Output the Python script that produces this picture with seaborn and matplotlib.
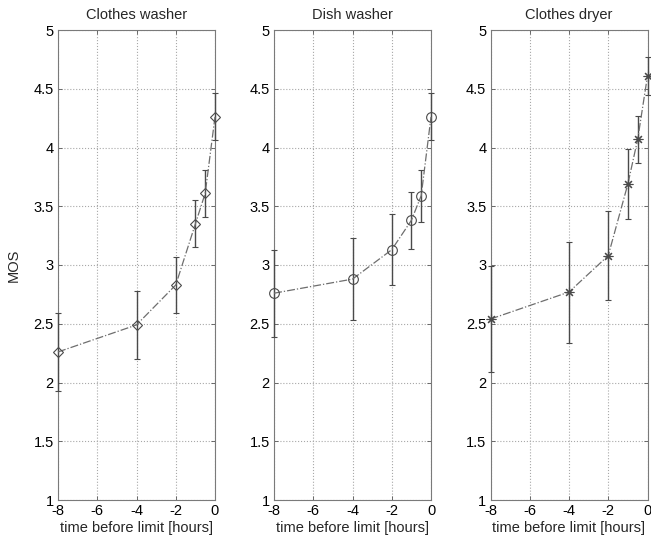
import matplotlib
matplotlib.use("Agg")
import matplotlib.pyplot as plt
import seaborn as sns
import numpy as np
import pandas as pd

# Hours before the limit at which the MOS was measured
hours = [-8, -4, -2, -1, -0.5, 0]

titles = ["Clothes washer", "Dish washer", "Clothes dryer"]

# Mean opinion score and its confidence half-width per appliance
mos_washer = [2.26, 2.49, 2.83, 3.35, 3.61, 4.26]
err_washer = [0.33, 0.29, 0.24, 0.20, 0.20, 0.20]

mos_dish = [2.76, 2.88, 3.13, 3.38, 3.59, 4.26]
err_dish = [0.37, 0.35, 0.30, 0.245, 0.22, 0.20]

mos_dryer = [2.54, 2.77, 3.08, 3.69, 4.07, 4.61]
err_dryer = [0.45, 0.43, 0.38, 0.30, 0.20, 0.16]

x_ticks = [-8, -6, -4, -2, 0]
y_ticks = [1, 1.5, 2, 2.5, 3, 3.5, 4, 4.5, 5]
y_tick_labels = ["1", "1.5", "2", "2.5", "3", "3.5", "4", "4.5", "5"]

sns.set_theme(style="white")
plt.rcParams["font.family"] = ["Liberation Sans", "DejaVu Sans"]

fig = plt.figure(figsize=(6.51, 5.40), dpi=100)

lefts = [58 / 651, 274 / 651, 490.5 / 651]
width = 157 / 651
bottom = 1 - 500 / 540
height = 470 / 540

series = [(mos_washer, err_washer, "D", 5.5),
          (mos_dish, err_dish, "o", 7),
          (mos_dryer, err_dryer, (8, 2, 0), 7)]

for i, (title, (mos, err, marker, msize)) in enumerate(zip(titles, series)):
    ax = fig.add_axes([lefts[i], bottom, width, height])
    df = pd.DataFrame({"hours": hours, "mos": mos})

    ax.errorbar(hours, mos, yerr=err, fmt="none", ecolor="#4a4a4a",
                elinewidth=1.0, capsize=2, capthick=0.8, clip_on=False, zorder=3)
    sns.lineplot(data=df, x="hours", y="mos", ax=ax, color="#6e6e6e",
                 linestyle="-.", linewidth=0.9, marker=marker,
                 markersize=msize, markerfacecolor="none",
                 markeredgecolor="#4a4a4a", markeredgewidth=0.8,
                 clip_on=False, zorder=4)

    ax.set_xlim(-8, 0)
    ax.set_ylim(1, 5)
    ax.set_xticks(x_ticks)
    ax.set_xticklabels([str(t) for t in x_ticks])
    ax.set_yticks(y_ticks)
    ax.set_yticklabels(y_tick_labels)
    ax.grid(True, linestyle=":", color="#a8a8a8", linewidth=0.8)
    ax.tick_params(direction="in", length=3, width=0.6, colors="#555555",
                   labelcolor="black", labelsize=10.5, top=True, right=True,
                   bottom=True, left=True, pad=3)
    for sp in ax.spines.values():
        sp.set_visible(True)
        sp.set_color("#7a7a7a")
        sp.set_linewidth(0.8)
    ax.set_title(title, fontsize=10.5, pad=8)
    ax.set_xlabel("time before limit [hours]", fontsize=10.5, labelpad=2)
    if i == 0:
        ax.set_ylabel("MOS", fontsize=10.5, labelpad=9)
    else:
        ax.set_ylabel("")

fig.savefig("out.png", dpi=100)
